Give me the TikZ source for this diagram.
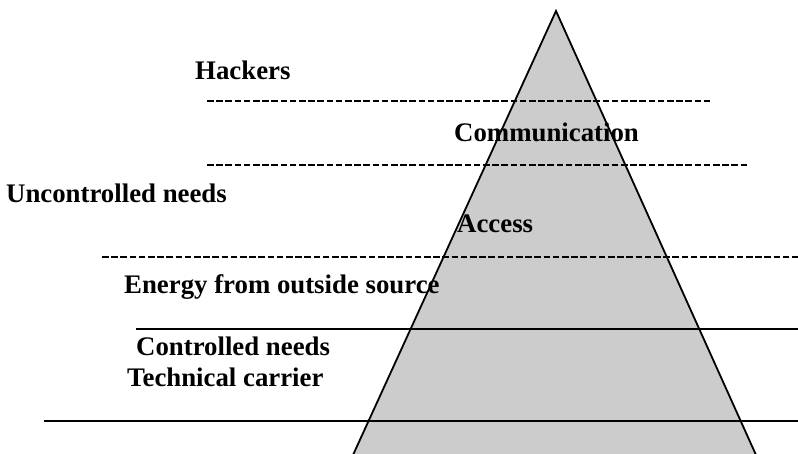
\documentclass[tikz,border=0pt]{standalone}
\usepackage{fontspec}
\setmainfont{Liberation Serif}
\begin{document}
\begin{tikzpicture}[x=1pt,y=-1pt,
  lbl/.style={anchor=base west,inner sep=0pt,font=\fontsize{26.8}{30}\selectfont\bfseries},
  dashln/.style={line width=2.4pt,dash pattern=on 6.5pt off 2.7pt},
  solidln/.style={line width=1.8pt},
  edge/.style={draw=black,line width=1.8pt,line join=miter}]
\useasboundingbox (0,0) rectangle (798,453);
% pyramid
\coordinate (apex) at (556,11);
\coordinate (bl) at (353,455);
\coordinate (br) at (756,455);
\fill[gray!40] (bl) -- (apex) -- (br) -- cycle;
\draw[edge] (bl) -- (apex) -- (br);
% separating lines
\coordinate (l1a) at (207,101); \coordinate (l1b) at (712,101);
\coordinate (l2a) at (207,165); \coordinate (l2b) at (748,165);
\coordinate (l3a) at (102,257); \coordinate (l3b) at (798,257);
\coordinate (l4a) at (136,329); \coordinate (l4b) at (798,329);
\coordinate (l5a) at (44,421);  \coordinate (l5b) at (798,421);
\draw[dashln] (l1a) -- (l1b);
\draw[dashln] (l2a) -- (l2b);
\draw[dashln] (l3a) -- (l3b);
\draw[solidln] (l4a) -- (l4b);
\draw[solidln] (l5a) -- (l5b);
% labels
\node[lbl] (hackers) at (195,79) {Hackers};
\node[lbl] (comm) at (454,141) {Communication};
\node[lbl] (unc) at (6,202) {Uncontrolled needs};
\node[lbl] (access) at (457,232) {Access};
\node[lbl] (energy) at (124,293) {Energy from outside source};
\node[lbl] (ctrl) at (136,355) {Controlled needs};
\node[lbl] (tech) at (127,386) {Technical carrier};
\end{tikzpicture}
\end{document}
